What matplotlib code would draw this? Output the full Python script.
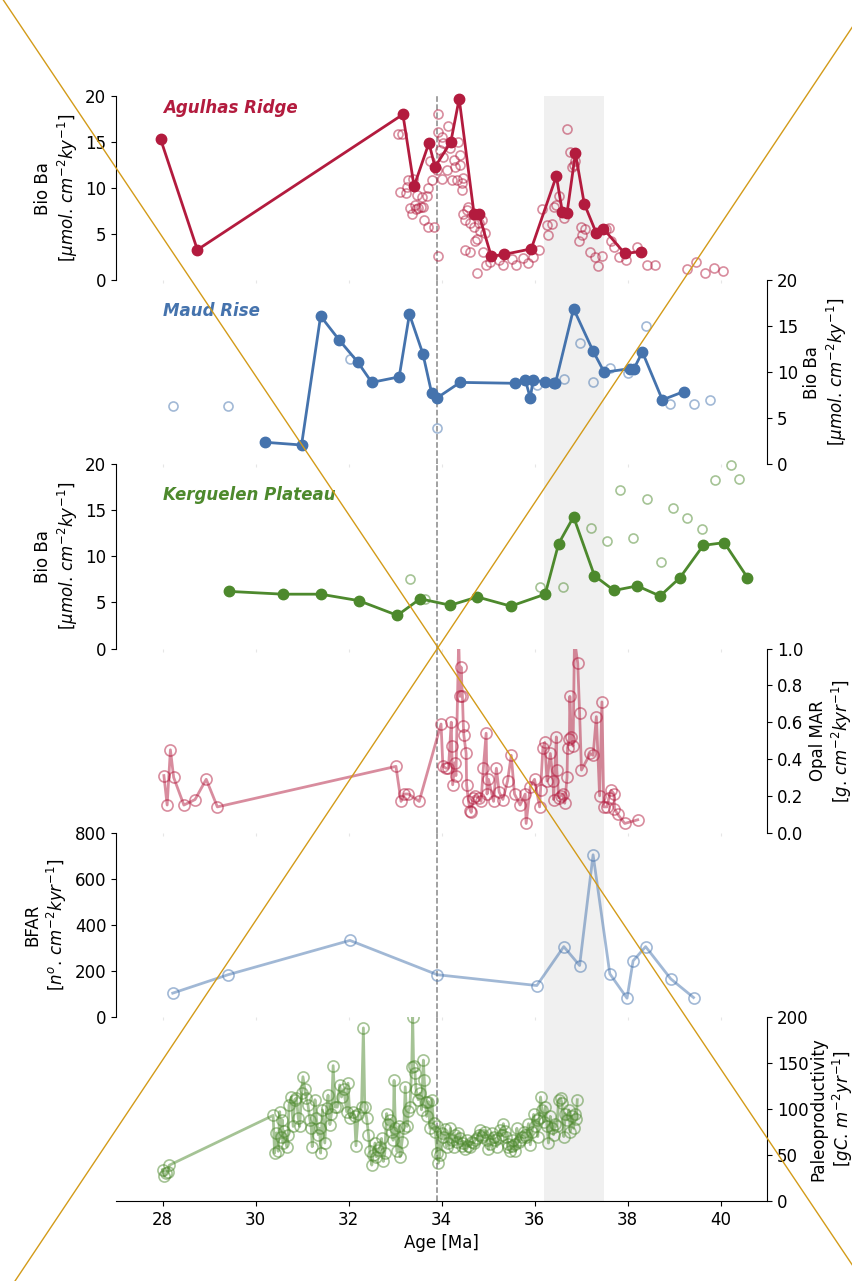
import matplotlib.pyplot as plt
import numpy as np
from matplotlib.lines import Line2D

# ---- Agulhas Ridge, Bio Ba (filled = selected, open = all samples)
ag_age = [27.96, 28.75, 33.17, 33.41, 33.73, 33.86, 34.20, 34.38, 34.70, 34.80, 35.07,
          35.35, 35.93, 36.47, 36.60, 36.70, 36.88, 37.07, 37.33, 37.48, 37.94, 38.28]
ag_ba = [15.3, 3.3, 18.0, 10.2, 14.9, 12.3, 15.0, 19.7, 7.2, 7.2, 2.6,
         2.8, 3.4, 11.3, 7.4, 7.3, 13.8, 8.3, 5.1, 5.6, 2.9, 3.1]
ag_open_age = [33.07, 33.16, 33.11, 33.24, 33.25, 33.29, 33.32, 33.36, 33.39, 33.43, 33.45,
               33.47, 33.50, 33.55, 33.57, 33.61, 33.62, 33.68, 33.72, 33.72, 33.75, 33.79,
               33.83, 33.90, 33.93, 33.93, 33.93, 33.97, 34.00, 34.00, 34.04, 34.04, 34.11,
               34.15, 34.19, 34.22, 34.26, 34.29, 34.33, 34.36, 34.40, 34.40, 34.44, 34.44,
               34.47, 34.47, 34.51, 34.51, 34.54, 34.58, 34.62, 34.62, 34.69, 34.72, 34.76,
               34.76, 34.80, 34.83, 34.87, 34.90, 34.94, 34.96, 35.05, 35.23, 35.33, 35.51,
               35.61, 35.75, 35.87, 35.97, 36.09, 36.16, 36.27, 36.30, 36.38, 36.43, 36.47,
               36.52, 36.63, 36.70, 36.77, 36.81, 36.84, 36.88, 36.95, 36.99, 37.02, 37.09,
               37.19, 37.31, 37.36, 37.45, 37.53, 37.60, 37.65, 37.71, 37.81, 37.96, 38.21,
               38.41, 38.60, 39.27, 39.47, 39.66, 39.86, 40.06]
ag_open_ba = [15.9, 15.9, 9.6, 9.5, 10.1, 10.9, 7.8, 7.2, 11.0, 8.2, 7.7,
              9.2, 7.8, 7.9, 9.0, 8.0, 6.5, 9.1, 10.0, 5.8, 12.9, 10.9,
              5.8, 12.0, 18.0, 16.1, 2.6, 14.1, 15.6, 11.0, 14.9, 13.4, 12.0,
              16.7, 14.3, 10.9, 13.0, 12.3, 10.9, 15.0, 13.6, 12.5, 10.5, 9.8,
              11.1, 7.2, 3.3, 6.5, 7.6, 8.0, 6.2, 3.1, 5.8, 4.3, 4.5,
              0.8, 6.2, 5.3, 6.5, 3.1, 5.1, 1.6, 2.0, 2.2, 1.6, 2.3,
              1.7, 2.4, 1.9, 2.5, 3.3, 7.7, 6.0, 4.9, 6.1, 8.0, 8.2,
              9.1, 6.8, 16.4, 13.9, 12.3, 12.5, 12.9, 4.3, 5.8, 4.9, 5.6,
              3.1, 2.5, 1.5, 2.6, 5.6, 5.7, 4.3, 3.6, 2.5, 2.2, 3.6,
              1.6, 1.6, 1.2, 2.0, 0.8, 1.3, 1.0]

# ---- Maud Rise, Bio Ba
mr_age = [30.20, 30.99, 31.40, 31.80, 32.20, 32.50, 33.09, 33.31, 33.60, 33.79, 33.90, 34.40,
          35.59, 35.80, 35.91, 35.97, 36.22, 36.41, 36.45, 36.84, 37.26, 37.50, 38.06, 38.14,
          38.32, 38.75, 39.21]
mr_ba = [2.4, 2.1, 16.1, 13.5, 11.1, 8.9, 9.5, 16.3, 12.0, 7.7, 7.2, 8.9,
         8.8, 9.2, 7.2, 9.2, 8.9, 8.8, 8.8, 16.9, 12.3, 10.0, 10.4, 10.4,
         12.2, 7.0, 7.9]
mr_open_age = [28.22, 29.41, 32.03, 33.90, 36.05, 36.63, 36.97, 37.26, 37.62, 38.01, 38.39,
               38.91, 39.42, 39.77]
mr_open_ba = [6.3, 6.3, 11.4, 4.0, 8.6, 9.3, 13.2, 8.9, 10.5, 9.9, 15.0, 6.6, 6.6, 7.0]

# ---- Kerguelen Plateau, Bio Ba
kp_age = [29.44, 30.59, 31.40, 32.22, 33.05, 33.54, 34.19, 34.77, 35.49, 36.23, 36.52,
          36.84, 37.29, 37.71, 38.21, 38.70, 39.13, 39.63, 40.08, 40.58]
kp_ba = [6.2, 5.9, 5.9, 5.2, 3.6, 5.4, 4.7, 5.6, 4.6, 5.9, 11.4,
         14.3, 7.9, 6.3, 6.8, 5.7, 7.7, 11.2, 11.5, 7.7]
kp_open_age = [33.32, 33.65, 36.11, 36.61, 37.22, 37.56, 37.83, 38.12, 38.41, 38.71, 38.98,
               39.29, 39.60, 39.88, 40.22, 40.39]
kp_open_ba = [7.5, 5.4, 6.7, 6.7, 13.1, 11.7, 17.2, 12.0, 16.2, 9.4, 15.3,
              14.2, 13.0, 18.3, 19.9, 18.4]

# ---- Opal MAR
opal_age = [28.03, 28.10, 28.17, 28.24, 28.46, 28.70, 28.94, 29.18, 33.02, 33.13, 33.20,
            33.29, 33.52, 33.99, 34.03, 34.10, 34.15, 34.21, 34.22, 34.24, 34.29, 34.31,
            34.37, 34.40, 34.42, 34.45, 34.47, 34.48, 34.53, 34.54, 34.58, 34.62, 34.64,
            34.67, 34.72, 34.80, 34.85, 34.90, 34.96, 34.98, 35.01, 35.12, 35.18, 35.24,
            35.32, 35.42, 35.50, 35.57, 35.69, 35.80, 35.82, 35.91, 36.00, 36.11, 36.13,
            36.18, 36.22, 36.27, 36.34, 36.40, 36.41, 36.47, 36.48, 36.52, 36.56, 36.61,
            36.65, 36.70, 36.71, 36.75, 36.76, 36.79, 36.83, 36.86, 36.93, 36.97, 37.01,
            37.20, 37.26, 37.33, 37.40, 37.45, 37.49, 37.56, 37.60, 37.65, 37.71, 37.72,
            37.79, 37.94, 38.22]
opal_mar = [0.31, 0.15, 0.45, 0.30, 0.15, 0.18, 0.29, 0.14, 0.36, 0.17, 0.21,
            0.21, 0.17, 0.59, 0.36, 0.35, 0.35, 0.60, 0.47, 0.26, 0.38, 0.31,
            1.05, 0.74, 0.90, 0.74, 0.58, 0.53, 0.43, 0.26, 0.17, 0.12, 0.11,
            0.19, 0.20, 0.19, 0.17, 0.35, 0.54, 0.21, 0.29, 0.17, 0.35, 0.22,
            0.18, 0.28, 0.42, 0.21, 0.15, 0.21, 0.05, 0.25, 0.29, 0.14, 0.23,
            0.46, 0.49, 0.28, 0.43, 0.28, 0.18, 0.52, 0.34, 0.19, 0.20, 0.21,
            0.16, 0.30, 0.46, 0.51, 0.74, 0.52, 0.47, 1.05, 0.92, 0.65, 0.34,
            0.43, 0.42, 0.63, 0.20, 0.71, 0.14, 0.14, 0.19, 0.23, 0.21, 0.13,
            0.10, 0.05, 0.07]

# ---- BFAR
bfar_age = [28.22, 29.41, 32.03, 33.91, 36.05, 36.63, 36.97, 37.26, 37.62, 37.99, 38.12,
            38.39, 38.93, 39.42]
bfar = [103, 183, 332, 183, 136, 305, 223, 704, 187, 81, 243, 305, 165, 84]

# ---- Paleoproductivity
pp_age = [28.00, 28.04, 28.08, 28.11, 28.15, 30.38, 30.41, 30.45, 30.49, 30.52, 30.55,
          30.58, 30.59, 30.62, 30.67, 30.70, 30.72, 30.77, 30.81, 30.84, 30.88, 30.92,
          30.95, 30.99, 31.02, 31.06, 31.09, 31.13, 31.17, 31.20, 31.22, 31.28, 31.31,
          31.35, 31.38, 31.40, 31.44, 31.49, 31.53, 31.56, 31.60, 31.63, 31.67, 31.71,
          31.76, 31.81, 31.85, 31.90, 31.96, 31.99, 32.03, 32.10, 32.13, 32.16, 32.21,
          32.28, 32.32, 32.35, 32.39, 32.43, 32.46, 32.50, 32.53, 32.57, 32.60, 32.64,
          32.68, 32.71, 32.75, 32.78, 32.82, 32.86, 32.90, 32.93, 32.96, 32.98, 33.01,
          33.04, 33.08, 33.11, 33.15, 33.19, 33.22, 33.26, 33.29, 33.32, 33.36, 33.38,
          33.40, 33.43, 33.45, 33.50, 33.54, 33.57, 33.61, 33.63, 33.66, 33.68, 33.72,
          33.75, 33.79, 33.83, 33.87, 33.90, 33.91, 33.93, 33.96, 34.00, 34.04, 34.07,
          34.11, 34.15, 34.19, 34.22, 34.26, 34.30, 34.33, 34.36, 34.40, 34.44, 34.47,
          34.51, 34.54, 34.58, 34.62, 34.65, 34.69, 34.72, 34.76, 34.80, 34.83, 34.87,
          34.90, 34.94, 34.98, 35.01, 35.05, 35.08, 35.12, 35.15, 35.19, 35.22, 35.26,
          35.30, 35.33, 35.36, 35.39, 35.42, 35.44, 35.48, 35.51, 35.54, 35.57, 35.59,
          35.62, 35.66, 35.69, 35.73, 35.77, 35.80, 35.82, 35.87, 35.91, 35.95, 35.98,
          36.02, 36.05, 36.07, 36.10, 36.13, 36.16, 36.20, 36.23, 36.27, 36.30, 36.34,
          36.38, 36.41, 36.44, 36.48, 36.52, 36.56, 36.59, 36.63, 36.66, 36.70, 36.74,
          36.77, 36.81, 36.84, 36.88, 36.90, 36.92]
pp = [34, 27, 30, 32, 39, 93, 52, 74, 54, 97, 70,
      88, 63, 76, 59, 72, 104, 113, 81, 110, 112, 90,
      81, 117, 135, 122, 112, 104, 88, 79, 59, 110, 90,
      72, 79, 52, 99, 63, 101, 115, 83, 94, 147, 102,
      102, 126, 113, 122, 97, 128, 90, 97, 92, 60, 94,
      102, 188, 102, 90, 72, 54, 39, 50, 63, 48, 55,
      59, 68, 43, 52, 95, 84, 88, 75, 66, 131, 79,
      54, 81, 48, 64, 79, 124, 81, 98, 102, 146, 200,
      147, 139, 122, 110, 117, 99, 153, 131, 108, 92, 108,
      79, 110, 85, 75, 52, 81, 41, 50, 74, 70, 78,
      59, 63, 79, 66, 59, 72, 64, 74, 68, 60, 63,
      56, 66, 60, 59, 64, 63, 66, 68, 72, 77, 70,
      72, 75, 66, 56, 62, 74, 70, 66, 59, 68, 77,
      72, 84, 76, 70, 62, 59, 54, 60, 66, 62, 54,
      79, 64, 66, 70, 75, 72, 70, 84, 61, 75, 94,
      81, 88, 70, 90, 113, 99, 86, 102, 81, 63, 92,
      79, 72, 84, 81, 110, 112, 106, 70, 95, 88, 99,
      75, 92, 79, 95, 89, 110]

RED = "#b31b3e"
BLUE = "#4573ad"
GREEN = "#4d892d"

fig = plt.figure(figsize=(8.53, 12.81), dpi=100)

left, width = 116 / 853, 651 / 853
top_px, h_px = 96, 184.17
sides = ["left", "right", "left", "right", "left", "right"]
axes = []
for i, side in enumerate(sides):
    bottom = 1 - (top_px + (i + 1) * h_px) / 1281
    ax = fig.add_axes([left, bottom, width, h_px / 1281])
    ax.patch.set_alpha(0)
    ax.set_xlim(27, 41)
    for s in ["top", "bottom", "left", "right"]:
        ax.spines[s].set_visible(s == side)
    if side == "right":
        ax.yaxis.tick_right()
        ax.yaxis.set_label_position("right")
    ax.tick_params(axis="y", labelsize=12)
    ax.tick_params(axis="x", length=2, color="#e6e6e6", labelbottom=False)
    ax.axvspan(36.2, 37.5, color="#f0f0f0", lw=0, zorder=0)
    ax.axvline(33.9, color="#888888", ls="--", lw=1.1, zorder=1)
    axes.append(ax)

bioba_label = "Bio Ba\n$[\\mu mol.\\,cm^{-2}ky^{-1}]$"
sites = [
    (axes[0], ag_age, ag_ba, ag_open_age, ag_open_ba, RED, "Agulhas Ridge", 0.935),
    (axes[1], mr_age, mr_ba, mr_open_age, mr_open_ba, BLUE, "Maud Rise", 0.835),
    (axes[2], kp_age, kp_ba, kp_open_age, kp_open_ba, GREEN, "Kerguelen Plateau", 0.835),
]
for ax, age, ba, oage, oba, c, name, ty in sites:
    ax.plot(oage, oba, "o", mfc="none", mec=c, mew=1.2, ms=6.5, alpha=0.5,
            zorder=2, clip_on=False)
    ax.plot(age, ba, "-o", color=c, lw=2, ms=7.5, zorder=3, clip_on=False)
    ax.set_ylim(0, 20)
    ax.set_yticks([0, 5, 10, 15, 20])
    ax.set_ylabel(bioba_label, fontsize=12)
    ax.text(0.072, ty, name, transform=ax.transAxes, color=c, fontsize=12,
            fontweight="bold", fontstyle="italic", va="center")

ax = axes[3]
ax.plot(opal_age, opal_mar, "-o", color=RED, alpha=0.5, lw=2, mfc="none", ms=8, mew=1.2)
ax.set_ylim(0, 1)
ax.set_yticks(np.arange(0, 1.01, 0.2))
ax.set_ylabel("Opal MAR\n$[g.\\,cm^{-2}kyr^{-1}]$", fontsize=12)

ax = axes[4]
ax.plot(bfar_age, bfar, "-o", color=BLUE, alpha=0.5, lw=2, mfc="none", ms=8, mew=1.2)
ax.set_ylim(0, 800)
ax.set_yticks([0, 200, 400, 600, 800])
ax.set_ylabel("BFAR\n$[n^{o}.\\,cm^{-2}kyr^{-1}]$", fontsize=12)

ax = axes[5]
ax.plot(pp_age, pp, "-o", color=GREEN, alpha=0.5, lw=2, mfc="none", ms=8, mew=1.2)
ax.set_ylim(0, 200)
ax.set_yticks([0, 50, 100, 150, 200])
ax.set_ylabel("Paleoproductivity\n$[gC.\\,m^{-2}yr^{-1}]$", fontsize=12, labelpad=0.5)
ax.spines["bottom"].set_visible(True)
ax.set_xticks(np.arange(28, 41, 2))
ax.tick_params(axis="x", length=3.5, color="black", labelbottom=True, labelsize=12)
ax.set_xlabel("Age [Ma]", fontsize=12)

# crossing lines drawn over the whole figure
fig.add_artist(Line2D([0.0039, 1.0], [1.0, 0.0117], transform=fig.transFigure,
                      color="#d39b19", lw=1))
fig.add_artist(Line2D([0.0176, 1.0], [0.0, 0.9797], transform=fig.transFigure,
                      color="#d39b19", lw=1))

fig.savefig("out.png", dpi=100)
